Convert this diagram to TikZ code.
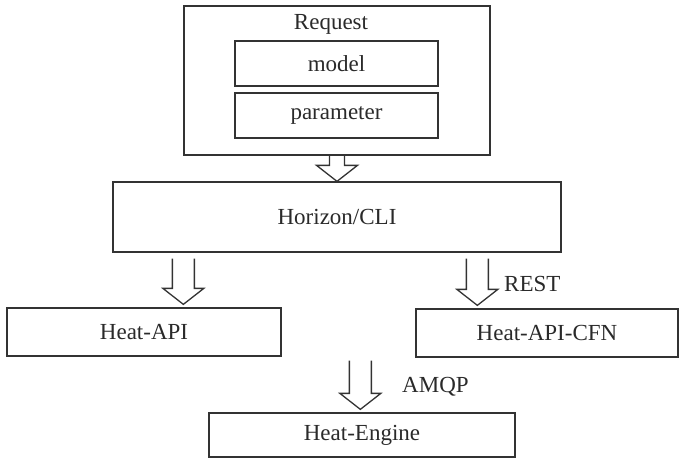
\documentclass[tikz,border=0pt]{standalone}
\usepackage{fontspec}
\setmainfont{Liberation Serif}
\usetikzlibrary{calc}
\definecolor{ink}{HTML}{333333}
\definecolor{txt}{HTML}{2a2a2a}
\tikzset{
  box/.style={draw=ink, line width=1.3pt, rectangle, inner sep=0pt, anchor=center},
  lbl/.style={text=txt, inner sep=0pt, font=\fontsize{23}{25}\selectfont},
  fatarrow/.style={draw=ink, line width=1.3pt, line join=miter},
}
% #1 half shaft width, #2 shaft top point, #3 tip point
\newcommand\fatarr[3]{\draw[fatarrow] let \p1=(#2), \p2=(#3) in
  (\x2-#1pt,\y1) -- (\x2-#1pt,\y2+16pt) -- (\x2-20.5pt,\y2+16pt) -- (\x2,\y2)
  -- (\x2+20.5pt,\y2+16pt) -- (\x2+#1pt,\y2+16pt) -- (\x2+#1pt,\y1);}
\begin{document}
\begin{tikzpicture}[x=1pt,y=-1pt]
\useasboundingbox (0,0) rectangle (680,459);
% nodes
\node[box, minimum width=306pt, minimum height=149pt] (req) at (337,80.5) {};
\node[lbl] (reqt) at (331,24) {Request};
\node[box, minimum width=203pt, minimum height=45pt] (model) at (336.5,63.5) {};
\node[lbl] at (model.center) {model};
\node[box, minimum width=203pt, minimum height=45pt] (param) at (336.5,115.5) {};
\node[lbl] at (param.center) {parameter};
\node[box, minimum width=448pt, minimum height=70pt] (hz) at (337,217) {};
\node[lbl] at (hz.center) {Horizon/CLI};
\node[box, minimum width=274pt, minimum height=48pt] (api) at (144,332) {};
\node[lbl] at (api.center) {Heat-API};
\node[box, minimum width=262pt, minimum height=48pt] (cfn) at (547,333) {};
\node[lbl] at (cfn.center) {Heat-API-CFN};
\node[box, minimum width=306pt, minimum height=44pt] (eng) at (362,435) {};
\node[lbl] at (eng.center) {Heat-Engine};
% arrow end points
\coordinate (a1s) at (req.south);
\coordinate (a1t) at (hz.north);
\coordinate (a2s) at ($(hz.south west)+(71,6)$);
\coordinate (a2t) at ($(api.north west)+(177,-3)$);
\coordinate (a3s) at ($(hz.south west)+(365,6)$);
\coordinate (a3t) at ($(cfn.north west)+(62,-3)$);
\coordinate (a4s) at ($(cfn.south west)+(-55,3)$);
\coordinate (a4t) at ($(eng.north west)+(152,-3)$);
% arrows
\fatarr{7.5}{a1s}{a1t}
\fatarr{11}{a2s}{a2t}
\fatarr{11}{a3s}{a3t}
\fatarr{11}{a4s}{a4t}
% labels
\node[lbl, anchor=west] (rest) at (504,284) {REST};
\node[lbl, anchor=west] (amqp) at (402,387) {AMQP};
\end{tikzpicture}
\end{document}
